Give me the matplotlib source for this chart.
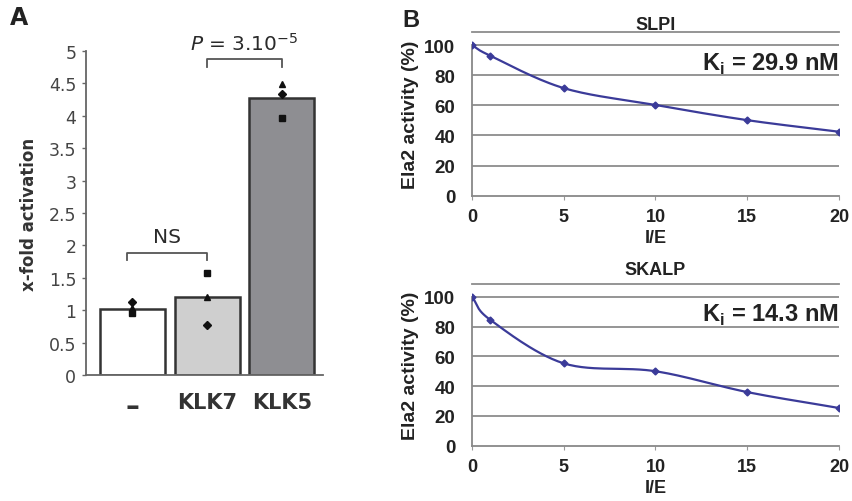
import numpy as np
import matplotlib.pyplot as plt

# panel A: x-fold activation
groups = ["\u2013", "KLK7", "KLK5"]
bar_means = [1.02, 1.20, 4.27]
bar_colors = ["#ffffff", "#cfcfcf", "#8e8e92"]
rep_diamond = [1.12, 0.77, 4.33]
rep_triangle = [1.04, 1.21, 4.49]
rep_square = [0.96, 1.58, 3.96]

# panel B: inhibition curves
ie_ratio = [0, 1, 5, 10, 15, 20]
slpi_activity = [100, 93, 71.5, 60.3, 50.2, 42.5]
skalp_activity = [100, 84.5, 55.3, 50, 36, 25.3]

LINE = "#3b3b99"
GRID = "#8c8c8c"


def smooth(xs, ys, sx=18.65, sy=1.5, n=30):
    # Catmull-Rom curve through the points, like Excel's smoothed line
    p = np.column_stack([np.asarray(xs, float) * sx, np.asarray(ys, float) * sy])
    p = np.vstack([2 * p[0] - p[1], p, 2 * p[-1] - p[-2]])
    t = np.linspace(0, 1, n)[:, None]
    out = []
    for i in range(1, len(p) - 2):
        p0, p1, p2, p3 = p[i - 1], p[i], p[i + 1], p[i + 2]
        seg = 0.5 * ((2 * p1) + (-p0 + p2) * t + (2 * p0 - 5 * p1 + 4 * p2 - p3) * t ** 2
                     + (-p0 + 3 * p1 - 3 * p2 + p3) * t ** 3)
        out.append(seg if i == 1 else seg[1:])
    out = np.vstack(out)
    return out[:, 0] / sx, out[:, 1] / sy


fig = plt.figure(figsize=(8.53, 5.02), dpi=100)

# ---- panel A ----
axA = fig.add_axes([0.1008, 0.2510, 0.2778, 0.6454])
x = np.arange(len(groups))
axA.bar(x, bar_means, width=0.87, color=bar_colors, edgecolor="#333333", linewidth=1.8, zorder=2)
axA.plot(x, rep_diamond, "D", color="#111111", ms=4, zorder=3)
axA.plot(x, rep_triangle, "^", color="#111111", ms=4.5, zorder=3)
axA.plot(x, rep_square, "s", color="#111111", ms=5, zorder=3)
axA.set_xlim(-0.62, 2.55)
axA.set_ylim(0, 5)
axA.set_yticks(np.arange(0, 5.01, 0.5))
axA.set_yticklabels(["0", "0.5", "1", "1.5", "2", "2.5", "3", "3.5", "4", "4.5", "5"])
axA.tick_params(axis="y", direction="out", length=3, width=1, color="#666666",
                labelsize=12.5, labelcolor="#444444", pad=4)
axA.set_xticks(x)
axA.set_xticklabels(groups, fontsize=15, fontweight="bold", color="#333333")
axA.get_xticklabels()[0].set_fontsize(20)
axA.tick_params(axis="x", length=0, pad=12)
for s in ["top", "right"]:
    axA.spines[s].set_visible(False)
for s in ["left", "bottom"]:
    axA.spines[s].set_color("#666666")
    axA.spines[s].set_linewidth(1.3)
axA.set_ylabel("x-fold activation", fontsize=12, fontweight="bold", color="#333333", labelpad=8)

# significance brackets
for (xa, xb, yb, label, ty) in [(-0.07, 1.0, 1.89, "NS", 2.14),
                                 (1.0, 2.0, 4.88, "$\\it{P}$ = 3.10$^{-5}$", 5.12)]:
    axA.plot([xa, xa, xb, xb], [yb - 0.12, yb, yb, yb - 0.12], color="#555555", lw=1.3, clip_on=False)
    axA.text((xa + xb) / 2, ty, label, ha="center", va="center", fontsize=14.5, color="#2a2a2a")

fig.text(0.012, 0.965, "A", fontsize=17, fontweight="bold", va="center", color="#222222")
fig.text(0.472, 0.96, "B", fontsize=17, fontweight="bold", va="center", color="#222222",
         family="Liberation Sans")

# ---- panel B ----
rects = [[0.5533, 0.6082, 0.4303, 0.3255], [0.5533, 0.1102, 0.4303, 0.3221]]
title_y = [1.05, 1.088]
series = [("SLPI", slpi_activity, "K$_\\mathregular{i}$ = 29.9 nM"),
          ("SKALP", skalp_activity, "K$_\\mathregular{i}$ = 14.3 nM")]
for rect, ty, (title, vals, ki) in zip(rects, title_y, series):
    ax = fig.add_axes(rect)
    sx, sy = smooth(ie_ratio, vals)
    ax.plot(sx, sy, color=LINE, lw=1.6, zorder=3)
    ax.plot(ie_ratio, vals, "D", color=LINE, ms=3.5, zorder=4)
    ax.set_xlim(0, 20)
    ax.set_ylim(0, 108.6)
    ax.set_yticks(range(0, 101, 20))
    ax.set_xticks(range(0, 21, 5))
    for yv in range(20, 101, 20):
        ax.axhline(yv, color=GRID, lw=1.3, zorder=1)
    ax.spines["right"].set_visible(False)
    ax.spines["top"].set_color(GRID)
    ax.spines["top"].set_linewidth(1.3)
    ax.spines["left"].set_bounds(0, 100)
    for s in ["left", "bottom"]:
        ax.spines[s].set_color("#888888")
        ax.spines[s].set_linewidth(1.3)
    ax.tick_params(axis="y", length=0, pad=12, labelsize=13.5)
    ax.tick_params(axis="x", direction="out", length=3, color="#999999", pad=6, labelsize=13)
    for lab in ax.get_xticklabels() + ax.get_yticklabels():
        lab.set_fontweight("bold")
        lab.set_family("Liberation Sans")
        lab.set_color("#222222")
    ax.set_xlabel("I/E", fontsize=13, fontweight="bold", family="Liberation Sans",
                  color="#222222", labelpad=3)
    ax.set_ylabel("Ela2 activity (%)", fontsize=14, fontweight="bold", family="Liberation Sans",
                  color="#222222", labelpad=4)
    ax.text(0.5, ty, title, transform=ax.transAxes, ha="center", va="center",
            fontsize=13, fontweight="bold", family="Liberation Sans", color="#222222")
    ax.text(1.0, 0.81, ki, transform=ax.transAxes, ha="right", va="center",
            fontsize=17, fontweight="bold", family="Liberation Sans", color="#222222")

fig.savefig("out.png", dpi=100)
